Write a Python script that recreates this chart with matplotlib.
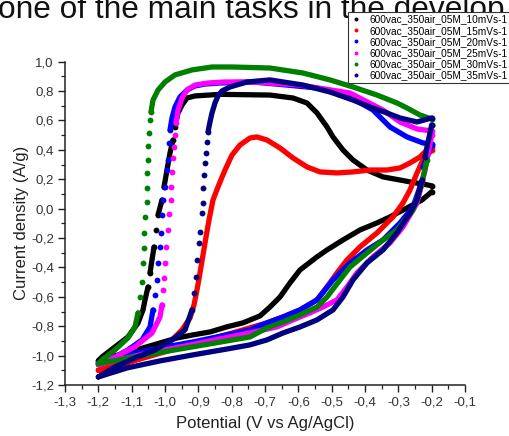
import numpy as np
import matplotlib
matplotlib.use("Agg")
import matplotlib.pyplot as plt
from matplotlib.ticker import MultipleLocator, FuncFormatter
from matplotlib.lines import Line2D

plt.rcParams['font.family'] = ['Liberation Sans', 'DejaVu Sans']

# ---- cyclic voltammetry loops (upper sweep -1.2 -> -0.2, then lower sweep back) ----
labels = ["600vac_350air_05M_10mVs-1", "600vac_350air_05M_15mVs-1",
          "600vac_350air_05M_20mVs-1", "600vac_350air_05M_25mVs-1",
          "600vac_350air_05M_30mVs-1", "600vac_350air_05M_35mVs-1"]
colors = ["#000000", "#ff0000", "#0000ff", "#ff00ff", "#008000", "#000080"]

pot_10 = [-1.2, -1.189, -1.15, -1.111, -1.081, -1.066, -1.06, -1.051, -1.045, -1.039, -1.033,
          -1.027, -1.021, -1.009, -1.003, -0.994, -0.985, -0.976, -0.97, -0.961, -0.949, -0.934,
          -0.91, -0.835, -0.685, -0.616, -0.574, -0.544, -0.514, -0.496, -0.466, -0.436, -0.394,
          -0.346, -0.295, -0.265, -0.211, -0.2,
          -0.2, -0.229, -0.274, -0.325, -0.364, -0.415, -0.466, -0.514, -0.544, -0.595, -0.625,
          -0.655, -0.685, -0.715, -0.766, -0.814, -0.865, -0.916, -0.964, -1.015, -1.066, -1.114,
          -1.165, -1.2]
cur_10 = [-1.035, -1.009, -0.941, -0.873, -0.778, -0.689, -0.621, -0.533, -0.437, -0.349, -0.261,
          -0.145, -0.043, 0.059, 0.148, 0.263, 0.379, 0.467, 0.556, 0.651, 0.705, 0.753,
          0.767, 0.778, 0.773, 0.753, 0.719, 0.651, 0.556, 0.488, 0.399, 0.331, 0.263,
          0.216, 0.195, 0.182, 0.161, 0.155,
          0.115, 0.059, 0.005, -0.056, -0.097, -0.145, -0.213, -0.281, -0.328, -0.417, -0.505,
          -0.601, -0.669, -0.73, -0.777, -0.804, -0.839, -0.859, -0.88, -0.914, -0.948, -0.982,
          -1.009, -1.035]

pot_15 = [-1.2, -1.15, -1.09, -1.03, -0.979, -0.949, -0.925, -0.913, -0.904, -0.895, -0.886,
          -0.877, -0.868, -0.856, -0.841, -0.82, -0.799, -0.775, -0.745, -0.724, -0.694, -0.655,
          -0.616, -0.574, -0.535, -0.484, -0.436, -0.385, -0.334, -0.295, -0.265, -0.235, -0.211,
          -0.2,
          -0.2, -0.226, -0.244, -0.265, -0.286, -0.316, -0.364, -0.415, -0.454, -0.484, -0.514,
          -0.544, -0.595, -0.646, -0.694, -0.745, -0.796, -0.895, -1.0, -1.105, -1.2]
cur_15 = [-1.1, -1.07, -1.03, -0.975, -0.893, -0.825, -0.744, -0.655, -0.553, -0.437, -0.315,
          -0.193, -0.077, 0.059, 0.148, 0.263, 0.365, 0.433, 0.481, 0.488, 0.467, 0.413,
          0.345, 0.284, 0.25, 0.243, 0.25, 0.263, 0.263, 0.277, 0.311, 0.352, 0.406,
          0.42,
          0.40, 0.331, 0.243, 0.127, 0.039, -0.056, -0.165, -0.26, -0.349, -0.437, -0.532,
          -0.621, -0.689, -0.737, -0.777, -0.811, -0.845, -0.906, -0.974, -1.043, -1.1]

pot_20 = [-1.2, -1.15, -1.111, -1.069, -1.045, -1.036, -1.03, -1.024, -1.021, -1.015, -1.012,
          -1.009, -1.006, -1.0, -0.994, -0.991, -0.988, -0.985, -0.979, -0.97, -0.955, -0.934,
          -0.91, -0.88, -0.835, -0.736, -0.634, -0.544, -0.445, -0.376, -0.325, -0.274, -0.226,
          -0.2,
          -0.2, -0.226, -0.235, -0.256, -0.295, -0.346, -0.394, -0.445, -0.496, -0.544, -0.595,
          -0.646, -0.694, -0.745, -0.814, -0.916, -1.015, -1.114, -1.2]
cur_20 = [-1.05, -1.009, -0.961, -0.893, -0.805, -0.689, -0.587, -0.485, -0.37, -0.261, -0.165,
          -0.043, 0.059, 0.148, 0.263, 0.331, 0.447, 0.535, 0.617, 0.692, 0.76, 0.807,
          0.835, 0.848, 0.855, 0.862, 0.841, 0.821, 0.76, 0.671, 0.556, 0.488, 0.447,
          0.44,
          0.43, 0.283, 0.148, 0.012, -0.097, -0.213, -0.281, -0.369, -0.485, -0.621, -0.689,
          -0.737, -0.777, -0.825, -0.859, -0.907, -0.948, -0.995, -1.05]

pot_25 = [-1.2, -1.15, -1.09, -1.039, -1.015, -1.009, -1.006, -1.003, -1.0, -0.997, -0.991,
          -0.988, -0.982, -0.982, -0.979, -0.976, -0.973, -0.97, -0.967, -0.961, -0.949, -0.934,
          -0.91, -0.871, -0.82, -0.736, -0.595, -0.445, -0.346, -0.295, -0.244, -0.2,
          -0.2, -0.22, -0.244, -0.286, -0.325, -0.376, -0.424, -0.454, -0.484, -0.526, -0.565,
          -0.616, -0.664, -0.745, -0.85, -0.955, -1.075, -1.2]
cur_25 = [-1.062, -1.01, -0.94, -0.846, -0.737, -0.655, -0.553, -0.471, -0.37, -0.261, -0.145,
          -0.036, 0.059, 0.148, 0.25, 0.345, 0.42, 0.501, 0.583, 0.671, 0.753, 0.807,
          0.841, 0.855, 0.862, 0.862, 0.841, 0.787, 0.671, 0.59, 0.542, 0.529,
          0.50, 0.26, 0.037, -0.124, -0.233, -0.328, -0.437, -0.533, -0.621, -0.669, -0.709,
          -0.757, -0.805, -0.845, -0.893, -0.941, -0.995, -1.062]

pot_30 = [-1.2, -1.189, -1.15, -1.111, -1.09, -1.081, -1.075, -1.069, -1.066, -1.063, -1.063,
          -1.06, -1.054, -1.054, -1.054, -1.051, -1.051, -1.048, -1.045, -1.042, -1.036, -1.021,
          -1.0, -0.97, -0.919, -0.859, -0.799, -0.685, -0.586, -0.505, -0.436, -0.364, -0.304,
          -0.274, -0.235, -0.2,
          -0.2, -0.214, -0.235, -0.256, -0.304, -0.346, -0.394, -0.445, -0.475, -0.514, -0.544,
          -0.595, -0.646, -0.694, -0.745, -0.85, -0.955, -1.075, -1.2]
cur_30 = [-1.055, -1.029, -0.961, -0.879, -0.805, -0.709, -0.601, -0.499, -0.37, -0.267, -0.165,
          -0.056, 0.046, 0.141, 0.243, 0.331, 0.427, 0.515, 0.604, 0.658, 0.739, 0.807,
          0.862, 0.91, 0.944, 0.964, 0.964, 0.957, 0.923, 0.876, 0.828, 0.773, 0.719,
          0.685, 0.637, 0.61,
          0.57, 0.33, 0.127, -0.009, -0.145, -0.213, -0.301, -0.397, -0.485, -0.601, -0.669,
          -0.723, -0.771, -0.811, -0.873, -0.914, -0.955, -1.002, -1.055]

pot_35 = [-1.2, -1.15, -1.09, -1.03, -0.979, -0.94, -0.919, -0.913, -0.907, -0.904, -0.898,
          -0.895, -0.889, -0.886, -0.886, -0.883, -0.88, -0.877, -0.874, -0.871, -0.865, -0.859,
          -0.85, -0.841, -0.829, -0.805, -0.754, -0.685, -0.586, -0.505, -0.436, -0.385, -0.334,
          -0.295, -0.244, -0.211, -0.2,
          -0.2, -0.214, -0.22, -0.229, -0.244, -0.265, -0.304, -0.346, -0.394, -0.436, -0.466,
          -0.496, -0.544, -0.595, -0.646, -0.694, -0.745, -0.814, -0.916, -1.015, -1.114, -1.2]
cur_35 = [-1.145, -1.077, -1.016, -0.961, -0.893, -0.825, -0.689, -0.573, -0.465, -0.349, -0.233,
          -0.158, -0.029, 0.039, 0.141, 0.229, 0.311, 0.379, 0.454, 0.522, 0.59, 0.651,
          0.719, 0.767, 0.801, 0.828, 0.862, 0.876, 0.841, 0.794, 0.739, 0.692, 0.651,
          0.617, 0.59, 0.61, 0.617,
          0.57, 0.42, 0.351, 0.195, 0.059, -0.029, -0.165, -0.281, -0.369, -0.485, -0.601,
          -0.689, -0.757, -0.805, -0.846, -0.893, -0.927, -0.955, -0.995, -1.036, -1.084, -1.145]

series_pot = [pot_10, pot_15, pot_20, pot_25, pot_30, pot_35]
series_cur = [cur_10, cur_15, cur_20, cur_25, cur_30, cur_35]

W, H = 509, 436
fig = plt.figure(figsize=(W / 100, H / 100), dpi=100)
ax = fig.add_axes([65 / W, 1 - 385 / H, 400 / W, (385 - 61.7) / H])
ax.set_xlim(-1.3, -0.1)
ax.set_ylim(-1.2, 1.0)


def draw_loop(ax, x, y, color):
    """Thick trail where the sweep is smooth, separate dots where it is steep."""
    x = np.asarray(x, float)
    y = np.asarray(y, float)
    pix = ax.transData.transform(np.column_stack([x, y]))
    d = np.diff(pix, axis=0)
    steep = np.abs(d[:, 1]) > 6.5 * np.abs(d[:, 0])
    lx, ly = [x[0]], [y[0]]
    for i, s in enumerate(steep):
        if s:
            lx.append(np.nan)
            ly.append(np.nan)
        lx.append(x[i + 1])
        ly.append(y[i + 1])
    ax.plot(lx, ly, color=color, lw=3.8, solid_capstyle='round',
            solid_joinstyle='round', zorder=2)
    dot = np.zeros(len(x), bool)
    dot[:-1] |= steep
    dot[1:] |= steep
    ax.plot(x[dot], y[dot], 'o', color=color, ms=4.2, mew=0, zorder=2)


for p, c, col in zip(series_pot, series_cur, colors):
    draw_loop(ax, p, c, col)

# axes styling
for side in ('top', 'right'):
    ax.spines[side].set_visible(False)
for side in ('left', 'bottom'):
    ax.spines[side].set_linewidth(1.1)
    ax.spines[side].set_color('#222222')

comma = FuncFormatter(lambda v, pos: f"{v:.1f}".replace('.', ',').replace('−', '-'))
ax.xaxis.set_major_locator(MultipleLocator(0.1))
ax.xaxis.set_minor_locator(MultipleLocator(0.05))
ax.yaxis.set_major_locator(MultipleLocator(0.2))
ax.yaxis.set_minor_locator(MultipleLocator(0.1))
ax.xaxis.set_major_formatter(comma)
ax.yaxis.set_major_formatter(comma)
ax.tick_params(which='major', direction='out', length=5, width=1.0, labelsize=9.5,
               color='#222222', labelcolor='#333333', pad=3)
ax.tick_params(which='minor', direction='out', length=3, width=0.9, color='#222222')

ax.set_xlabel("Potential (V vs Ag/AgCl)", fontsize=12, color='#222222', labelpad=6)
ax.set_ylabel("Current density (A/g)", fontsize=12, color='#222222', labelpad=1)

handles = [Line2D([], [], ls='none', marker='o', ms=2.8, mew=0, color=col) for col in colors]
leg = fig.legend(handles, labels, loc='upper left',
                 bbox_to_anchor=(348 / W, 1 - 12 / H), fontsize=7.3,
                 frameon=True, fancybox=False, edgecolor='#333333', framealpha=1,
                 borderpad=0.25, labelspacing=0.12, handlelength=1.1,
                 handletextpad=0.8, borderaxespad=0)
leg.get_frame().set_linewidth(0.8)
leg.set_zorder(5)

# heading line running across the top edge, scaled to span the width
head = fig.text(-2 / W, 1 - 18 / H, "one of the main tasks in the develop", fontsize=20,
                ha='left', va='baseline', color='#111111', zorder=1)
fig.canvas.draw()
wpx = head.get_window_extent().width
head.set_fontsize(20 * 505 / wpx)

fig.savefig("out.png", dpi=100)
